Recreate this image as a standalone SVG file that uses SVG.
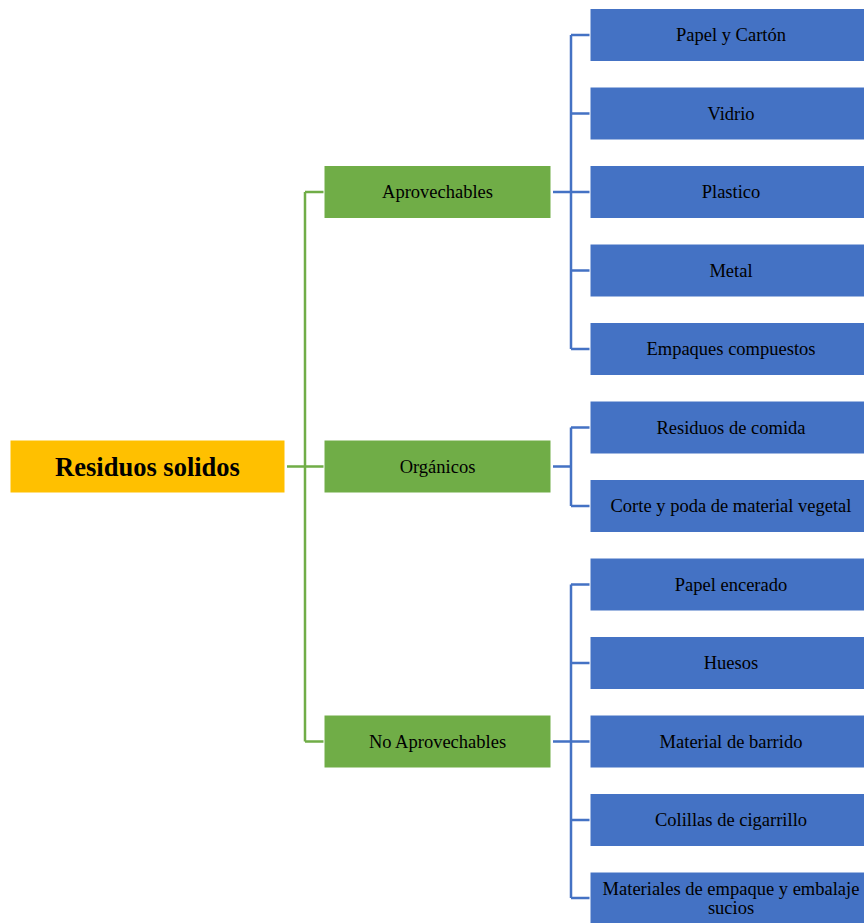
<svg xmlns="http://www.w3.org/2000/svg" width="864" height="923" viewBox="0 0 864 923">
<style>
.root{fill:#FFC000;stroke:#FFFFFF;stroke-width:1}
.g{fill:#70AD47;stroke:#FFFFFF;stroke-width:1}
.b{fill:#4472C4;stroke:#FFFFFF;stroke-width:1}
text{font-family:"Liberation Serif","Times New Roman",serif;font-size:18.5px;fill:#000;text-anchor:middle;dominant-baseline:central}
.rt{font-size:26.5px;font-weight:bold}
.cg{fill:none;stroke:#70AD47;stroke-width:2.5}
.cb{fill:none;stroke:#4472C4;stroke-width:2.5}
</style>
<rect width="864" height="923" fill="#FFFFFF"/>
<g id="connectors">
<path class="cg" d="M287,466.5 H324 M305,192 V741.5 M305,192 H324 M305,741.5 H324"/>
<path class="cb" d="M553,192 H590 M571,35 V349 M571,35 H590 M571,113.5 H590 M571,270.5 H590 M571,349 H590"/>
<path class="cb" d="M553,466.5 H571 M571,427.5 V506 M571,427.5 H590 M571,506 H590"/>
<path class="cb" d="M553,741.5 H590 M571,584.5 V898 M571,584.5 H590 M571,663 H590 M571,820 H590 M571,898 H590"/>
</g>
<g id="root"><rect class="root" x="10" y="440" width="275" height="53"/><text class="rt" x="147.5" y="466.5">Residuos solidos</text></g>
<g id="aprovechables"><rect class="g" x="324" y="165.5" width="227" height="53"/><text x="437.5" y="192">Aprovechables</text></g>
<g id="organicos"><rect class="g" x="324" y="440" width="227" height="53"/><text x="437.5" y="466.5">Orgánicos</text></g>
<g id="no-aprovechables"><rect class="g" x="324" y="715" width="227" height="53"/><text x="437.5" y="741.5">No Aprovechables</text></g>
<g id="papel-carton"><rect class="b" x="590" y="8.5" width="275" height="53"/><text x="731" y="35">Papel y Cartón</text></g>
<g id="vidrio"><rect class="b" x="590" y="87" width="275" height="53"/><text x="731" y="113.5">Vidrio</text></g>
<g id="plastico"><rect class="b" x="590" y="165.5" width="275" height="53"/><text x="731" y="192">Plastico</text></g>
<g id="metal"><rect class="b" x="590" y="244" width="275" height="53"/><text x="731" y="270.5">Metal</text></g>
<g id="empaques"><rect class="b" x="590" y="322.5" width="275" height="53"/><text x="731" y="349">Empaques compuestos</text></g>
<g id="residuos-comida"><rect class="b" x="590" y="401" width="275" height="53"/><text x="731" y="427.5">Residuos de comida</text></g>
<g id="corte-poda"><rect class="b" x="590" y="479.5" width="275" height="53"/><text x="731" y="506">Corte y poda de material vegetal</text></g>
<g id="papel-encerado"><rect class="b" x="590" y="558" width="275" height="53"/><text x="731" y="584.5">Papel encerado</text></g>
<g id="huesos"><rect class="b" x="590" y="636.5" width="275" height="53"/><text x="731" y="663">Huesos</text></g>
<g id="material-barrido"><rect class="b" x="590" y="715" width="275" height="53"/><text x="731" y="741.5">Material de barrido</text></g>
<g id="colillas"><rect class="b" x="590" y="793.5" width="275" height="53"/><text x="731" y="820">Colillas de cigarrillo</text></g>
<g id="materiales-empaque"><rect class="b" x="590" y="872" width="275" height="53"/><text x="731" y="889">Materiales de empaque y embalaje</text><text x="731" y="908">sucios</text></g>
</svg>
